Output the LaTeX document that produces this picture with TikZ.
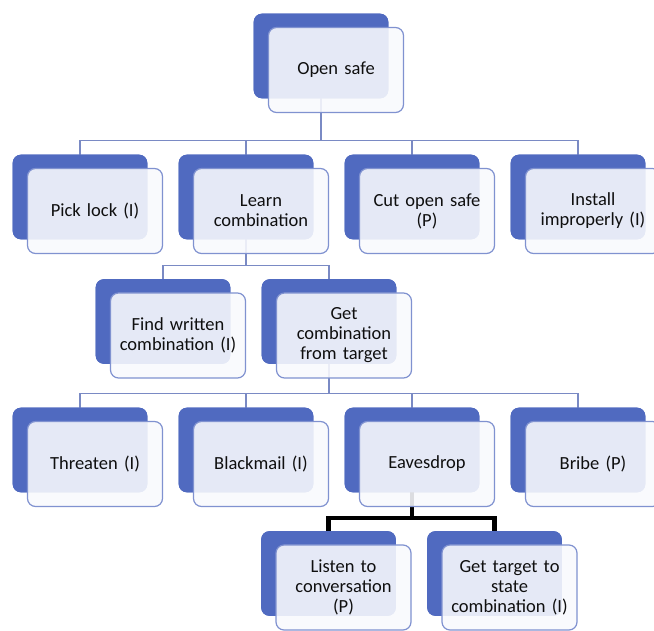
\documentclass[tikz,border=0pt]{standalone}
\usepackage{fontspec}
\setmainfont{Carlito}
\begin{document}
\begin{tikzpicture}[x=1pt,y=1pt,
  backbox/.style={fill=boxblue, draw=boxblue, line width=0.6pt, rounded corners=8pt,
    minimum width=134pt, minimum height=84pt, inner sep=0pt},
  frontbox/.style={fill=frontfill, fill opacity=0.89, text opacity=1, draw=edgeblue,
    line width=1.2pt, rounded corners=8pt, minimum width=135pt, minimum height=85pt,
    inner sep=2pt, align=center, text width=128pt,
    font=\fontsize{18.5}{20}\selectfont, text=textgray},
  conn/.style={draw=lineblue, line width=1.2pt},
  boldconn/.style={draw=black, line width=4.5pt, line join=miter}]
\definecolor{boxblue}{RGB}{80,106,192}
\definecolor{edgeblue}{RGB}{128,146,208}
\definecolor{frontfill}{RGB}{248,249,253}
\definecolor{lineblue}{RGB}{122,138,196}
\definecolor{textgray}{RGB}{15,15,15}

\useasboundingbox (0,0) rectangle (654,630);
\clip (0,0) rectangle (654,630);

% back boxes (offset up and to the left of the text boxes)
\node[backbox] (topb) at (321,574) {};
\node[backbox] (pickb) at (80,433) {};
\node[backbox] (learnb) at (246,433) {};
\node[backbox] (cutb) at (412,433) {};
\node[backbox] (instb) at (578,433) {};
\node[backbox] (findb) at (163,308.5) {};
\node[backbox] (getcb) at (329,308.5) {};
\node[backbox] (thrb) at (80,180) {};
\node[backbox] (blkb) at (246,180) {};
\node[backbox] (eavb) at (412,180) {};
\node[backbox] (brbb) at (578,180) {};
\node[backbox] (lisb) at (328.5,56.5) {};
\node[backbox] (gttb) at (494.5,56.5) {};

% connectors, drawn beneath the translucent text boxes
\foreach \p/\c in {topb/pickb, topb/learnb, topb/cutb, topb/instb,
                   learnb/findb, learnb/getcb,
                   getcb/thrb, getcb/blkb, getcb/eavb, getcb/brbb}
  \draw[conn] (\p.south) |- ([yshift=14pt]\c.north) -- (\c.north);
\draw[boldconn] (eavb.south) |- ([yshift=13pt]lisb.north) -- (lisb.north);
\draw[boldconn] (eavb.south) |- ([yshift=13pt]gttb.north) -- (gttb.north);

% back boxes again on top of the connector ends
\foreach \b in {topb,pickb,learnb,cutb,instb,findb,getcb,thrb,blkb,eavb,brbb,lisb,gttb}
  \fill[boxblue, rounded corners=8pt] (\b.south west) rectangle (\b.north east);

% text boxes
\node[frontbox] (top) at (336,560) {Open safe};
\node[frontbox] (pick) at (95,419) {Pick lock (I)};
\node[frontbox] (learn) at (261,419) {Learn\\combination};
\node[frontbox] (cut) at (427,419) {Cut open safe\\(P)};
\node[frontbox] (inst) at (593,419) {Install\\improperly (I)};
\node[frontbox] (find) at (178,294.5) {Find written\\combination (I)};
\node[frontbox] (getc) at (344,294.5) {Get\\combination\\from target};
\node[frontbox] (thr) at (95,166) {Threaten (I)};
\node[frontbox] (blk) at (261,166) {Blackmail (I)};
\node[frontbox] (eav) at (427,166) {Eavesdrop};
\node[frontbox] (brb) at (593,166) {Bribe (P)};
\node[frontbox] (lis) at (343.5,42.5) {Listen to\\conversation\\(P)};
\node[frontbox] (gtt) at (509.5,42.5) {Get target to\\state\\combination (I)};
\end{tikzpicture}
\end{document}
